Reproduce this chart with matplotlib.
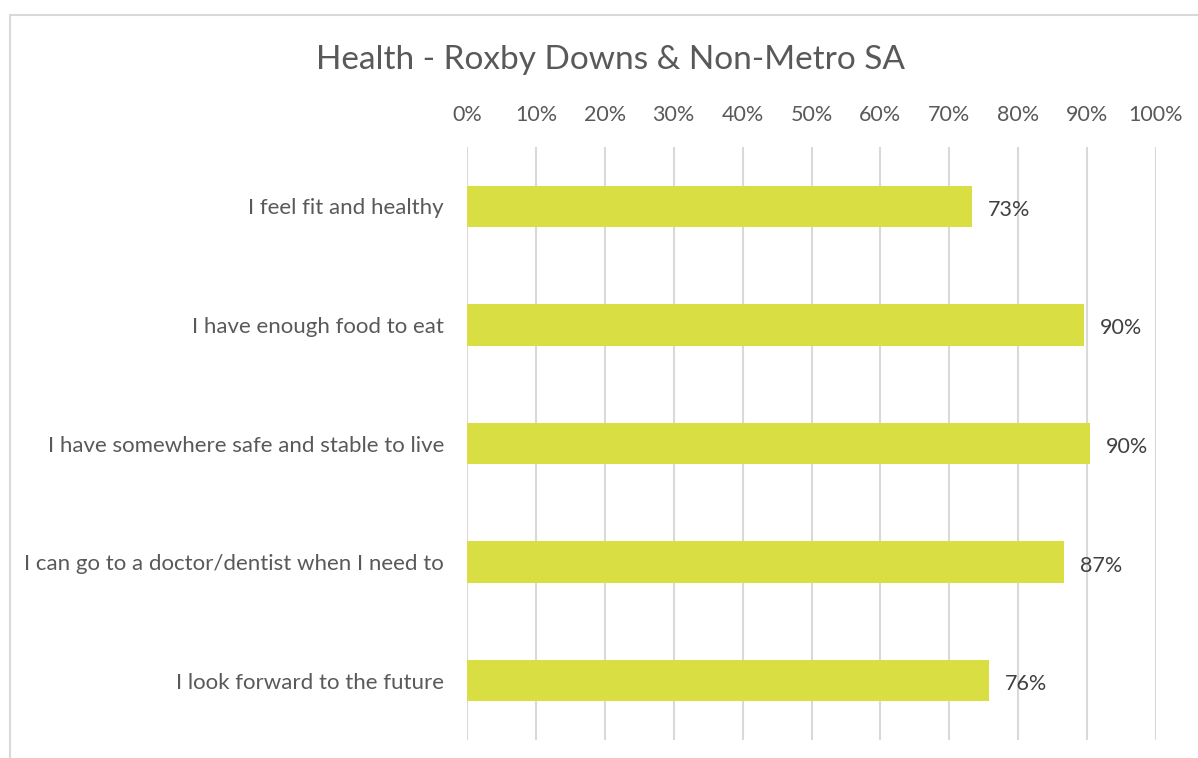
import matplotlib
matplotlib.use("Agg")
import matplotlib.pyplot as plt
from matplotlib.patches import Rectangle
from matplotlib.ticker import FuncFormatter

categories = [
    "I feel fit and healthy",
    "I have enough food to eat",
    "I have somewhere safe and stable to live",
    "I can go to a doctor/dentist when I need to",
    "I look forward to the future",
]
values = [73.3, 89.5, 90.4, 86.6, 75.8]
value_labels = ["73%", "90%", "90%", "87%", "76%"]
xticks = [0, 10, 20, 30, 40, 50, 60, 70, 80, 90, 100]
title = "Health - Roxby Downs & Non-Metro SA"

plt.rcParams['font.family'] = ['Lato', 'DejaVu Sans']

W, H = 1198, 758
fig = plt.figure(figsize=(W / 100, H / 100), dpi=100)
fig.patches.append(Rectangle((10 / W, -0.1), 1.2, 1.1 - 15 / H, transform=fig.transFigure,
                             fill=False, edgecolor="#D9D9D9", linewidth=1.5))

ax = fig.add_axes([467 / W, 1 - 740 / H, (1156 - 467) / W, (740 - 147) / H])
ypos = list(range(len(categories)))
ax.barh(ypos, values, height=0.35, color="#D9DF42", zorder=3)
for y, v, lab in zip(ypos, values, value_labels):
    ax.text(v + 2.3, y + 0.03, lab, va="center", ha="left", fontsize=15.5, color="#404040")

ax.set_xlim(0, 100)
ax.set_ylim(len(categories) - 0.5, -0.5)
ax.set_xticks(xticks)
ax.xaxis.set_major_formatter(FuncFormatter(lambda x, p: f"{x:.0f}%"))
ax.xaxis.tick_top()
ax.tick_params(axis="x", length=0, pad=16, labelsize=15.5, labelcolor="#595959")
ax.set_yticks(ypos)
ax.set_yticklabels(categories)
ax.tick_params(axis="y", length=0, pad=16.5, labelsize=16, labelcolor="#595959")
ax.grid(axis="x", color="#D9D9D9", linewidth=1.5, zorder=0)
for s in ax.spines.values():
    s.set_visible(False)

fig.text(611 / W, 1 - 60 / H, title, ha="center", va="center", fontsize=24, color="#595959")

fig.savefig("out.png", dpi=100, facecolor="white")
